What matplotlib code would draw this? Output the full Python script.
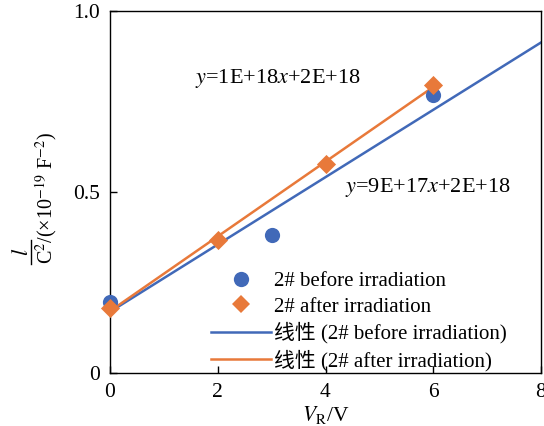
import numpy as np
import matplotlib
matplotlib.use("Agg")
import matplotlib.pyplot as plt
from matplotlib.lines import Line2D

# data
vr_before = [0, 3, 6]
c_before = [0.195, 0.381, 0.768]
vr_after = [0, 2, 4, 6]
c_after = [0.180, 0.367, 0.577, 0.796]

# trendline coefficients (slope, intercept) as drawn in the picture
fit_before = (0.093, 0.169)
fit_after = (0.1032, 0.171)
fit_before_range = [0, 8]
fit_after_range = [0, 6]

eq_before = r"$y$=9E+17$x$+2E+18"
eq_after = r"$y$=1E+18$x$+2E+18"
legend_labels = ["2# before irradiation", "2# after irradiation",
                 "线性 (2# before irradiation)", "线性 (2# after irradiation)"]

blue = "#4169B8"
orange = "#E8793A"

plt.rcParams["font.family"] = ["Liberation Serif", "Noto Sans CJK SC"]
plt.rcParams["mathtext.fontset"] = "stix"

fig = plt.figure(figsize=(5.44, 4.26), dpi=100)
ax = fig.add_axes([110 / 544, 1 - 373 / 426, 431 / 544, 362 / 426])

# trendlines
xb = np.array(fit_before_range)
ax.plot(xb, fit_before[0] * xb + fit_before[1], color=blue, lw=1.8, zorder=2)
xa = np.array(fit_after_range)
ax.plot(xa, fit_after[0] * xa + fit_after[1], color=orange, lw=1.8, zorder=2)

# points
ax.scatter(vr_before, c_before, s=120, color=blue, marker="o", zorder=3,
           linewidths=0, clip_on=False)
ax.scatter(vr_after, c_after, s=95, color=orange, marker="D", zorder=4,
           linewidths=0, clip_on=False)

ax.set_xlim(0, 8)
ax.set_ylim(0, 1.0)
ax.set_xticks([0, 2, 4, 6, 8])
ax.set_yticks([0, 0.5, 1.0])
ax.set_yticklabels(["0", "0.5", "1.0"])
ax.tick_params(direction="in", labelsize=15.5, length=5, width=1, pad=7)
for s in ax.spines.values():
    s.set_linewidth(1.0)

ax.text(1.58, 0.80, eq_after, fontsize=16)
ax.text(4.36, 0.50, eq_before, fontsize=16)

ax.set_xlabel(r"$V_{\mathrm{R}}$/V", fontsize=15.5, labelpad=2)

# y label: l over C^2, followed by units
fig.text(46 / 544, 1 - 198 / 426, r"C$^{2}$/(×10$^{-19}$ F$^{-2}$)", rotation=90,
         fontsize=14.5, ha="center", va="center")
fig.text(23 / 544, 1 - 252 / 426, r"$l$", rotation=90, fontsize=16,
         ha="center", va="center")
fig.add_artist(Line2D([31 / 544, 31 / 544], [1 - 240 / 426, 1 - 264 / 426],
                      color="black", lw=1.0, transform=fig.transFigure))

handles = [
    Line2D([], [], color=blue, marker="o", ls="none", markersize=11, markeredgewidth=0),
    Line2D([], [], color=orange, marker="D", ls="none", markersize=9, markeredgewidth=0),
    Line2D([], [], color=blue, lw=1.8),
    Line2D([], [], color=orange, lw=1.8),
]
ax.legend(handles, legend_labels, loc="lower left", bbox_to_anchor=(0.2, -0.035),
          frameon=False, fontsize=15, handlelength=2.9, handletextpad=0.15,
          labelspacing=0.27, borderpad=0.2)

plt.savefig("out.png", dpi=100)
